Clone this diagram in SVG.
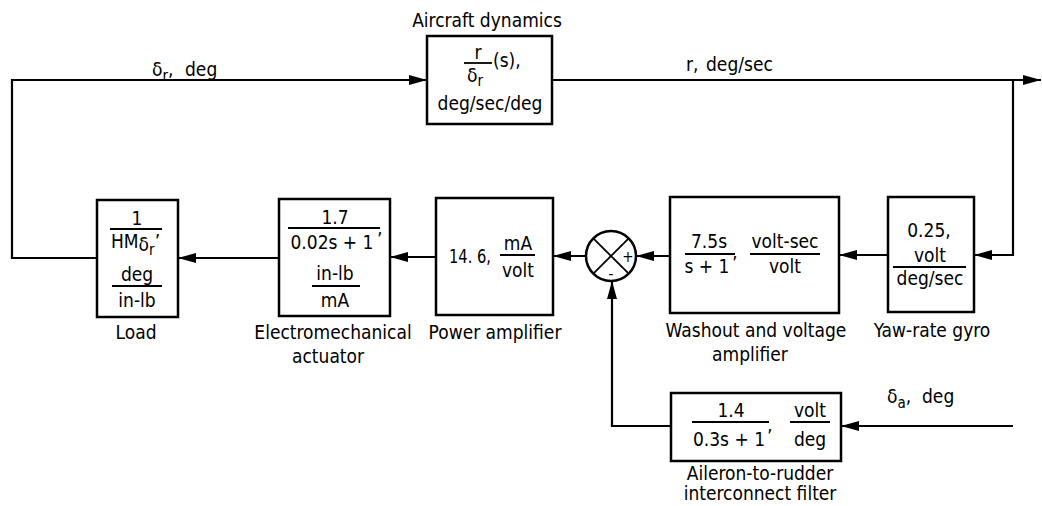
<svg xmlns="http://www.w3.org/2000/svg" width="1042" height="506" viewBox="0 0 1042 506">
<style>
text{font-family:"DejaVu Sans Condensed","Liberation Sans",sans-serif;font-size:19px;fill:#000}
.m{text-anchor:middle}
.s{font-size:15px}
.box{fill:#fff;stroke:#000;stroke-width:2.5}
.bar{stroke:#000;stroke-width:1.8}
.c{fill:none;stroke:#000;stroke-width:2.2}
</style>
<defs>
<marker id="ah" markerUnits="userSpaceOnUse" markerWidth="18" markerHeight="10" refX="18" refY="5" orient="auto">
<path d="M0,0 L18,5 L0,10 z" fill="#000"/>
</marker>
</defs>
<rect width="1042" height="506" fill="#fff"/>
<g id="connectors">
<path class="c" d="M97,258 H12 V80 H427" marker-end="url(#ah)"/>
<path class="c" d="M552,80 H1041" marker-end="url(#ah)"/>
<path class="c" d="M1013,80 V255 H974" marker-end="url(#ah)"/>
<path class="c" d="M888,255 H839" marker-end="url(#ah)"/>
<path class="c" d="M670,256 H636" marker-end="url(#ah)"/>
<path class="c" d="M586,256 H553" marker-end="url(#ah)"/>
<path class="c" d="M436,257 H390" marker-end="url(#ah)"/>
<path class="c" d="M279,258 H178" marker-end="url(#ah)"/>
<path class="c" d="M1013,426 H841" marker-end="url(#ah)"/>
<path class="c" d="M671,426 H612 V281" marker-end="url(#ah)"/>
<text x="152" y="76">δ<tspan class="s" dy="5">r</tspan><tspan dy="-5">,</tspan></text>
<text x="185" y="76">deg</text>
<text x="686" y="71">r,</text>
<text x="706" y="71">deg/sec</text>
<text x="887" y="403">δ<tspan class="s" dy="5">a</tspan><tspan dy="-5">,</tspan></text>
<text x="922" y="403">deg</text>
</g>
<g id="aircraft">
<text class="m" x="487" y="27">Aircraft dynamics</text>
<rect class="box" x="427" y="36" width="125" height="88"/>
<text class="m" x="478" y="59">r</text>
<line class="bar" x1="464" y1="63" x2="492" y2="63"/>
<text x="467" y="82">δ<tspan class="s" dy="4">r</tspan></text>
<text x="493" y="67">(s),</text>
<text class="m" x="490" y="110">deg/sec/deg</text>
</g>
<g id="load">
<rect class="box" x="97" y="200" width="81" height="117"/>
<text class="m" x="137" y="225">1</text>
<line class="bar" x1="110" y1="229" x2="162" y2="229"/>
<text x="111" y="248">HM<tspan dy="3">δ</tspan><tspan class="s" dy="4">r</tspan><tspan dy="-7">’</tspan></text>
<text class="m" x="137" y="281">deg</text>
<line class="bar" x1="112" y1="286" x2="162" y2="286"/>
<text class="m" x="137" y="307">in-lb</text>
<text class="m" x="136" y="339">Load</text>
</g>
<g id="actuator">
<rect class="box" x="279" y="199" width="111" height="117"/>
<text class="m" x="335" y="224">1.7</text>
<line class="bar" x1="288" y1="228" x2="380" y2="228"/>
<text class="m" x="332" y="249">0.02s + 1</text>
<text x="377" y="246">’</text>
<text class="m" x="335" y="280">in-lb</text>
<line class="bar" x1="312" y1="286" x2="360" y2="286"/>
<text class="m" x="335" y="307">mA</text>
<text class="m" x="333" y="339">Electromechanical</text>
<text class="m" x="328" y="363">actuator</text>
</g>
<g id="poweramp">
<rect class="box" x="436" y="198" width="117" height="117"/>
<text x="449" y="263" textLength="42" lengthAdjust="spacingAndGlyphs">14. 6,</text>
<text class="m" x="518" y="250">mA</text>
<line class="bar" x1="500" y1="255" x2="535" y2="255"/>
<text class="m" x="518" y="277">volt</text>
<text class="m" x="495" y="339">Power amplifier</text>
</g>
<g id="summer">
<circle cx="611" cy="256" r="25" fill="#fff" stroke="#000" stroke-width="2.5"/>
<line class="bar" x1="593.3" y1="238.3" x2="628.7" y2="273.7" stroke-width="2.2"/>
<line class="bar" x1="628.7" y1="238.3" x2="593.3" y2="273.7" stroke-width="2.2"/>
<text class="m" x="628" y="262" style="font-size:15px">+</text>
<text class="m" x="611" y="279" style="font-size:15px">-</text>
</g>
<g id="washout">
<rect class="box" x="670" y="197" width="169" height="116"/>
<text class="m" x="709" y="248">7.5s</text>
<line class="bar" x1="685" y1="254" x2="735" y2="254"/>
<text class="m" x="707" y="273">s + 1</text>
<text x="732" y="270">’</text>
<text class="m" x="785" y="248">volt-sec</text>
<line class="bar" x1="750" y1="254" x2="820" y2="254"/>
<text class="m" x="785" y="273">volt</text>
<text class="m" x="756" y="337">Washout and voltage</text>
<text class="m" x="750" y="361">amplifier</text>
</g>
<g id="gyro">
<rect class="box" x="888" y="197" width="86" height="115"/>
<text class="m" x="929" y="237">0.25,</text>
<text class="m" x="930" y="262">volt</text>
<line class="bar" x1="893" y1="267" x2="966" y2="267"/>
<text class="m" x="930" y="285">deg/sec</text>
<text class="m" x="932" y="337">Yaw-rate gyro</text>
</g>
<g id="aileron">
<rect class="box" x="671" y="393" width="170" height="68"/>
<text class="m" x="731" y="417">1.4</text>
<line class="bar" x1="692" y1="422" x2="769" y2="422"/>
<text class="m" x="729" y="446">0.3s + 1</text>
<text x="767" y="443">’</text>
<text class="m" x="810" y="417">volt</text>
<line class="bar" x1="790" y1="422" x2="830" y2="422"/>
<text class="m" x="810" y="446">deg</text>
<text class="m" x="760" y="480">Aileron-to-rudder</text>
<text class="m" x="760" y="500">interconnect filter</text>
</g>
</svg>
